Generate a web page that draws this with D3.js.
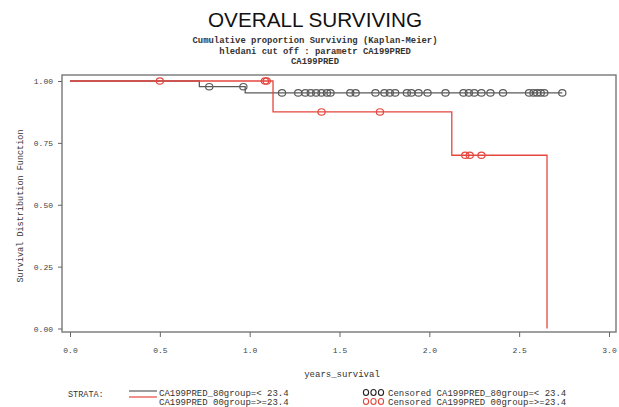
<!DOCTYPE html>
<html>
<head>
<meta charset="utf-8">
<script src="https://cdn.jsdelivr.net/npm/d3@7"></script>
<style>
  body { margin: 0; background: #fff; }
  svg { display: block; }
  .mono { font-family: "Liberation Mono", "DejaVu Sans Mono", monospace; }
</style>
</head>
<body>
<div class="container"></div>
<script>
// step points (time, survival after the step) for each stratum
var lowTimes = [0, 0.72, 0.975]
var lowSurv = [1.0, 0.977, 0.952]
var lowEnd = 2.74
var lowCensored = [0.775, 0.965, 1.18, 1.27, 1.31, 1.34, 1.37, 1.40, 1.43, 1.45, 1.56, 1.59,
  1.70, 1.75, 1.78, 1.81, 1.875, 1.90, 1.94, 1.99, 2.09, 2.19, 2.22, 2.25, 2.29, 2.34,
  2.41, 2.555, 2.58, 2.60, 2.62, 2.64, 2.74]

var highTimes = [0, 1.13, 2.125, 2.655]
var highSurv = [1.0, 0.875, 0.70, 0.0]
var highEnd = 2.655
var highCensored = [0.5, 1.085, 1.095, 1.40, 1.725, 2.20, 2.225, 2.29]

var xTicks = [0, 0.5, 1.0, 1.5, 2.0, 2.5, 3.0]
var yTicks = [0, 0.25, 0.5, 0.75, 1.0]

var titleText = 'OVERALL SURVIVING'
var subtitles = ['Cumulative proportion Surviving (Kaplan-Meier)', 'hledani cut off : parametr CA199PRED', 'CA199PRED']
var legendLabels = ['CA199PRED_80group=< 23.4', 'CA199PRED 00group=>=23.4']

var width = 619, height = 407
var frame = {left: 62, top: 75, right: 616, bottom: 332}

var svg = d3.select('.container').append('svg')
  .attr('width', width).attr('height', height)

var x = d3.scaleLinear().domain([0, 3]).range([70, 609])
var y = d3.scaleLinear().domain([0, 1]).range([328.5, 81])

var gray = '#5a5a5a', red = '#e5473f'

// titles
svg.append('text').text(titleText)
  .attr('x', 315).attr('y', 27).attr('text-anchor', 'middle')
  .attr('textLength', 214).attr('lengthAdjust', 'spacingAndGlyphs')
  .style('font-family', '"Liberation Sans", Arial, sans-serif').style('font-size', '20px').style('fill', '#111')

svg.selectAll('text.sub').data(subtitles).enter().append('text')
  .attr('class', 'sub mono')
  .attr('x', 315).attr('y', (d, i) => 43 + i * 10.5).attr('text-anchor', 'middle')
  .style('font-size', '8.9px').style('font-weight', 'bold').style('fill', '#333')
  .text(d => d)

// frame
svg.append('rect')
  .attr('x', frame.left).attr('y', frame.top)
  .attr('width', frame.right - frame.left).attr('height', frame.bottom - frame.top)
  .attr('fill', 'none').attr('stroke', '#777').attr('stroke-width', 1.4)

// axes
var xAxis = svg.append('g').attr('transform', `translate(0,${frame.bottom})`)
  .call(d3.axisBottom(x).tickValues(xTicks).tickFormat(d3.format('.1f')).tickSize(5).tickPadding(10))
var yAxis = svg.append('g').attr('transform', `translate(${frame.left},0)`)
  .call(d3.axisLeft(y).tickValues(yTicks).tickFormat(d3.format('.2f')).tickSize(4).tickPadding(5))

;[xAxis, yAxis].forEach(a => {
  a.select('.domain').remove()
  a.selectAll('.tick line').attr('stroke', '#666')
  a.selectAll('.tick text').attr('class', 'mono').style('font-size', '8px').style('fill', '#444')
})

svg.append('text').attr('class', 'mono').text('years_survival')
  .attr('x', 342).attr('y', 377).attr('text-anchor', 'middle')
  .style('font-size', '9px').style('fill', '#333')

svg.append('text').attr('class', 'mono').text('Survival Distribution Function')
  .attr('transform', 'translate(23,206) rotate(-90)').attr('text-anchor', 'middle')
  .style('font-size', '8.5px').style('fill', '#333')

// curves
function stepData(times, surv, end){
  var pts = times.map((t, i) => [t, surv[i]])
  if (end > times[times.length - 1]) pts.push([end, surv[surv.length - 1]])
  return pts
}
function survAt(times, surv, t){
  var s = surv[0]
  times.forEach((d, i) => { if (d <= t) s = surv[i] })
  return s
}

var line = d3.line().x(d => x(d[0])).y(d => y(d[1])).curve(d3.curveStepAfter)

var strata = [
  {times: lowTimes, surv: lowSurv, end: lowEnd, cens: lowCensored, color: gray},
  {times: highTimes, surv: highSurv, end: highEnd, cens: highCensored, color: red},
]

strata.forEach(s => {
  svg.append('path').datum(stepData(s.times, s.surv, s.end))
    .attr('d', line).attr('fill', 'none').attr('stroke', s.color).attr('stroke-width', 1.3)
})
strata.forEach(s => {
  svg.selectAll(null).data(s.cens).enter().append('ellipse')
    .attr('cx', d => x(d)).attr('cy', d => y(survAt(s.times, s.surv, d)))
    .attr('rx', 3.6).attr('ry', 3.2)
    .attr('fill', 'none').attr('stroke', s.color).attr('stroke-width', 1.2)
})

// legend
var leg = svg.append('g')
leg.append('text').attr('class', 'mono').text('STRATA:')
  .attr('x', 68).attr('y', 397).style('font-size', '8.5px').style('fill', '#333')

legendLabels.forEach((lab, i) => {
  var s = strata[i]
  var ly = 396 + i * 9
  leg.append('line').attr('x1', 129).attr('x2', 157).attr('y1', 391 + i * 6).attr('y2', 391 + i * 6)
    .attr('stroke', s.color).attr('stroke-width', 1.2)
  leg.append('text').attr('class', 'mono').text(lab)
    .attr('x', 159).attr('y', ly).style('font-size', '9px').style('fill', '#333')
  ;[0, 1, 2].forEach(k => {
    leg.append('ellipse').attr('cx', 366 + k * 7.5).attr('cy', ly - 3.5)
      .attr('rx', 2.6).attr('ry', 3).attr('fill', 'none')
      .attr('stroke', i ? red : '#222').attr('stroke-width', 1.1)
  })
  leg.append('text').attr('class', 'mono').text('Censored ' + lab)
    .attr('x', 388).attr('y', ly).style('font-size', '9px').style('fill', '#333')
})
</script>
</body>
</html>
